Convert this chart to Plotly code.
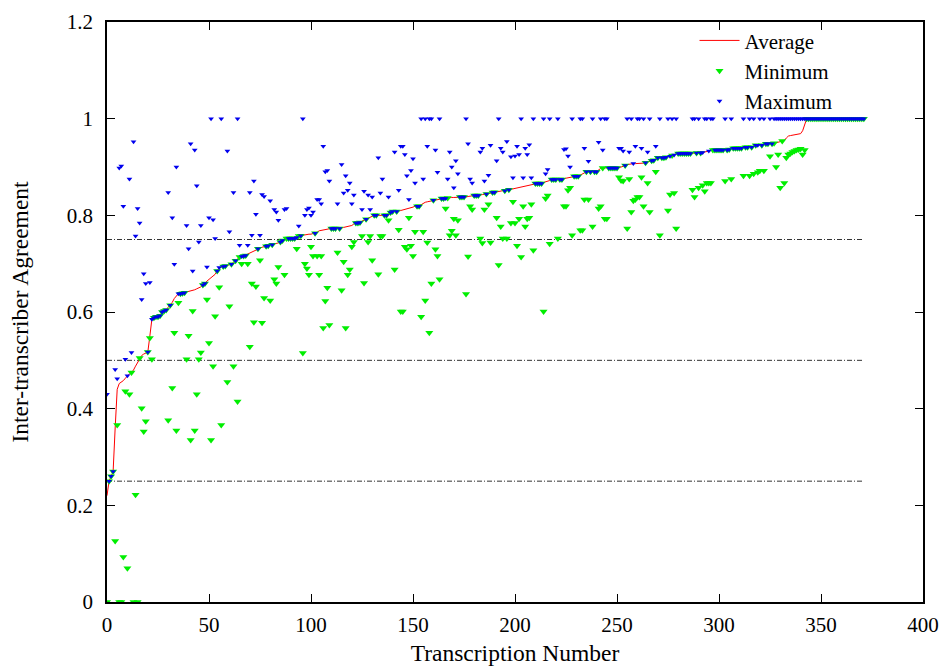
import plotly.graph_objects as go

# ---------------- data ----------------
avg = [
    0.22, 0.25, 0.26, 0.27, 0.36, 0.44, 0.452, 0.455, 0.458, 0.463,  # 0
    0.468, 0.472, 0.475, 0.48, 0.488, 0.495, 0.505, 0.51, 0.513, 0.515,  # 10
    0.517, 0.55, 0.585, 0.588, 0.59, 0.59, 0.592, 0.60, 0.602, 0.604,  # 20
    0.61, 0.614, 0.62, 0.628, 0.634, 0.638, 0.638, 0.639, 0.64, 0.642,  # 30
    0.643, 0.644, 0.645, 0.646, 0.648, 0.65, 0.652, 0.656, 0.659, 0.664,  # 40
    0.668, 0.671, 0.674, 0.678, 0.685, 0.692, 0.693, 0.694, 0.695, 0.696,  # 50
    0.698, 0.699, 0.703, 0.706, 0.71, 0.714, 0.715, 0.716, 0.717, 0.72,  # 60
    0.722, 0.724, 0.727, 0.729, 0.731, 0.733, 0.734, 0.735, 0.736, 0.737,  # 70
    0.738, 0.739, 0.741, 0.742, 0.743, 0.745, 0.748, 0.75, 0.752, 0.752,  # 80
    0.752, 0.752, 0.752, 0.754, 0.757, 0.758, 0.759, 0.759, 0.76, 0.761,  # 90
    0.761, 0.762, 0.763, 0.765, 0.768, 0.769, 0.77, 0.771, 0.772, 0.773,  # 100
    0.773, 0.773, 0.773, 0.773, 0.773, 0.774, 0.775, 0.776, 0.777, 0.777,  # 110
    0.779, 0.782, 0.784, 0.784, 0.785, 0.788, 0.79, 0.792, 0.794, 0.796,  # 120
    0.798, 0.8, 0.8, 0.8, 0.8, 0.8, 0.8, 0.8, 0.803, 0.806,  # 130
    0.808, 0.808, 0.808, 0.809, 0.81, 0.811, 0.812, 0.813, 0.814, 0.815,  # 140
    0.817, 0.819, 0.819, 0.819, 0.822, 0.825, 0.827, 0.828, 0.829, 0.83,  # 150
    0.831, 0.832, 0.833, 0.834, 0.835, 0.835, 0.835, 0.836, 0.837, 0.837,  # 160
    0.837, 0.837, 0.837, 0.838, 0.838, 0.838, 0.838, 0.839, 0.84, 0.841,  # 170
    0.841, 0.841, 0.841, 0.842, 0.843, 0.843, 0.844, 0.845, 0.846, 0.847,  # 180
    0.848, 0.849, 0.85, 0.85, 0.851, 0.851, 0.852, 0.853, 0.854, 0.855,  # 190
    0.856, 0.857, 0.858, 0.859, 0.86, 0.861, 0.862, 0.863, 0.864, 0.865,  # 200
    0.866, 0.866, 0.866, 0.866, 0.868, 0.869, 0.871, 0.872, 0.874, 0.874,  # 210
    0.874, 0.874, 0.874, 0.874, 0.876, 0.877, 0.878, 0.879, 0.88, 0.881,  # 220
    0.881, 0.881, 0.883, 0.885, 0.888, 0.89, 0.89, 0.89, 0.89, 0.89,  # 230
    0.89, 0.894, 0.897, 0.898, 0.898, 0.898, 0.898, 0.898, 0.898, 0.898,  # 240
    0.898, 0.899, 0.9, 0.901, 0.903, 0.905, 0.906, 0.907, 0.907, 0.907,  # 250
    0.907, 0.907, 0.907, 0.908, 0.909, 0.91, 0.912, 0.913, 0.914, 0.917,  # 260
    0.919, 0.919, 0.919, 0.919, 0.92, 0.921, 0.922, 0.924, 0.925, 0.927,  # 270
    0.928, 0.928, 0.928, 0.928, 0.928, 0.928, 0.928, 0.928, 0.929, 0.929,  # 280
    0.929, 0.929, 0.93, 0.931, 0.932, 0.933, 0.935, 0.935, 0.935, 0.935,  # 290
    0.935, 0.935, 0.935, 0.935, 0.935, 0.936, 0.937, 0.939, 0.939, 0.939,  # 300
    0.939, 0.939, 0.94, 0.941, 0.941, 0.941, 0.941, 0.943, 0.945, 0.945,  # 310
    0.945, 0.945, 0.946, 0.948, 0.948, 0.948, 0.948, 0.949, 0.95, 0.951,  # 320
    0.952, 0.954, 0.955, 0.96, 0.964, 0.965, 0.966, 0.966, 0.967, 0.968,  # 330
    0.969, 0.975, 0.99, 1, 1, 1, 1, 1, 1, 1,  # 340
    1, 1, 1, 1, 1, 1, 1, 1, 1, 1,  # 350
    1, 1, 1, 1, 1, 1, 1, 1, 1, 1,  # 360
    1, 1,  # 370
]

minimum = [
    0, 0.25, 0.26, 0.27, 0.126, 0.366, 0, 0, 0.093, 0.436,  # 0
    0.07, 0.43, 0.475, 0, 0.222, 0, 0.505, 0.401, 0.353, 0.374,  # 10
    0.517, 0.546, 0.502, 0.588, 0.59, 0.59, 0.592, 0.60, 0.602, 0.604,  # 20
    0.376, 0.614, 0.443, 0.557, 0.355, 0.619, 0.638, 0.639, 0.64, 0.502,  # 30
    0.551, 0.335, 0.602, 0.355, 0.43, 0.502, 0.516, 0.656, 0.659, 0.626,  # 40
    0.536, 0.335, 0.488, 0.591, 0.685, 0.651, 0.366, 0.694, 0.695, 0.455,  # 50
    0.612, 0.699, 0.488, 0.706, 0.415, 0.714, 0.70, 0.716, 0.717, 0.70,  # 60
    0.528, 0.659, 0.579, 0.653, 0.731, 0.707, 0.578, 0.629, 0.736, 0.737,  # 70
    0.624, 0.739, 0.668, 0.659, 0.693, 0.745, 0.748, 0.677, 0.752, 0.752,  # 80
    0.752, 0.752, 0.752, 0.731, 0.757, 0.758, 0.515, 0.70, 0.69, 0.677,  # 90
    0.735, 0.716, 0.763, 0.716, 0.677, 0.716, 0.567, 0.623, 0.65, 0.573,  # 100
    0.773, 0.773, 0.773, 0.723, 0.773, 0.645, 0.704, 0.567, 0.677, 0.688,  # 110
    0.735, 0.745, 0.784, 0.784, 0.785, 0.757, 0.66, 0.792, 0.745, 0.757,  # 120
    0.707, 0.80, 0.80, 0.678, 0.757, 0.757, 0.80, 0.80, 0.79, 0.806,  # 130
    0.808, 0.688, 0.808, 0.77, 0.601, 0.601, 0.735, 0.73, 0.795, 0.737,  # 140
    0.716, 0.766, 0.819, 0.819, 0.59, 0.766, 0.624, 0.744, 0.557, 0.659,  # 150
    0.831, 0.73, 0.716, 0.668, 0.835, 0.835, 0.814, 0.836, 0.759, 0.768,  # 160
    0.793, 0.759, 0.79, 0.838, 0.838, 0.838, 0.637, 0.715, 0.819, 0.812,  # 170
    0.841, 0.841, 0.841, 0.752, 0.743, 0.812, 0.844, 0.823, 0.744, 0.847,  # 180
    0.848, 0.795, 0.697, 0.777, 0.752, 0.851, 0.752, 0.853, 0.784, 0.828,  # 190
    0.784, 0.737, 0.793, 0.714, 0.819, 0.777, 0.793, 0.795, 0.823, 0.728,  # 200
    0.866, 0.866, 0.866, 0.866, 0.601, 0.835, 0.841, 0.741, 0.874, 0.874,  # 210
    0.874, 0.752, 0.874, 0.874, 0.819, 0.819, 0.852, 0.857, 0.759, 0.881,  # 220
    0.881, 0.881, 0.769, 0.769, 0.833, 0.89, 0.833, 0.89, 0.777, 0.89,  # 230
    0.89, 0.814, 0.819, 0.898, 0.793, 0.793, 0.898, 0.898, 0.898, 0.898,  # 240
    0.898, 0.879, 0.872, 0.871, 0.903, 0.773, 0.875, 0.807, 0.83, 0.833,  # 250
    0.838, 0.838, 0.879, 0.819, 0.909, 0.867, 0.807, 0.913, 0.914, 0.89,  # 260
    0.919, 0.759, 0.919, 0.919, 0.92, 0.81, 0.843, 0.924, 0.846, 0.773,  # 270
    0.928, 0.928, 0.928, 0.928, 0.928, 0.928, 0.928, 0.853, 0.838, 0.929,  # 280
    0.857, 0.929, 0.862, 0.85, 0.867, 0.867, 0.867, 0.935, 0.935, 0.935,  # 290
    0.935, 0.935, 0.935, 0.871, 0.935, 0.936, 0.875, 0.939, 0.939, 0.939,  # 300
    0.939, 0.939, 0.882, 0.941, 0.941, 0.882, 0.941, 0.886, 0.945, 0.889,  # 310
    0.892, 0.945, 0.892, 0.948, 0.948, 0.922, 0.948, 0.949, 0.90, 0.926,  # 320
    0.857, 0.954, 0.867, 0.919, 0.926, 0.928, 0.931, 0.933, 0.935, 0.936,  # 330
    0.938, 0.926, 0.935, 1, 1, 1, 1, 1, 1, 1,  # 340
    1, 1, 1, 1, 1, 1, 1, 1, 1, 1,  # 350
    1, 1, 1, 1, 1, 1, 1, 1, 1, 1,  # 360
    1, 1,  # 370
]

maximum = [
    0.43, 0.25, 0.26, 0.27, 0.481, 0.462, 0.898, 0.902, 0.819, 0.502,  # 0
    0.468, 0.875, 0.516, 0.952, 0.757, 0.814, 0.784, 0.626, 0.679, 0.659,  # 10
    0.517, 0.661, 0.585, 0.588, 0.59, 0.59, 0.592, 0.60, 0.602, 0.604,  # 20
    0.847, 0.614, 0.795, 0.699, 0.90, 0.638, 0.638, 0.639, 0.64, 0.779,  # 30
    0.731, 0.948, 0.685, 0.935, 0.861, 0.745, 0.779, 0.656, 0.659, 0.693,  # 40
    0.795, 1, 0.791, 0.752, 0.685, 0.692, 1, 0.694, 0.695, 0.933,  # 50
    0.766, 0.699, 0.847, 0.706, 1, 0.738, 0.715, 0.716, 0.717, 0.738,  # 60
    0.847, 0.759, 0.871, 0.802, 0.731, 0.759, 0.843, 0.839, 0.736, 0.737,  # 70
    0.83, 0.739, 0.812, 0.807, 0.79, 0.745, 0.748, 0.812, 0.814, 0.752,  # 80
    0.752, 0.752, 0.752, 0.754, 0.778, 0.758, 1, 0.80, 0.812, 0.815,  # 90
    0.80, 0.807, 0.763, 0.833, 0.833, 0.824, 0.943, 0.89, 0.893, 0.871,  # 100
    0.773, 0.773, 0.773, 0.824, 0.773, 0.905, 0.846, 0.882, 0.852, 0.867,  # 110
    0.824, 0.842, 0.784, 0.784, 0.785, 0.812, 0.85, 0.792, 0.842, 0.812,  # 120
    0.838, 0.80, 0.80, 0.919, 0.846, 0.875, 0.80, 0.80, 0.838, 0.806,  # 130
    0.808, 0.931, 0.808, 0.852, 0.943, 0.943, 0.926, 0.882, 0.833, 0.893,  # 140
    0.917, 0.867, 0.819, 0.819, 1, 0.875, 1, 0.943, 1, 1,  # 150
    0.831, 0.935, 0.889, 1, 0.835, 0.835, 0.835, 0.875, 0.931, 0.90,  # 160
    0.857, 0.913, 0.886, 0.838, 0.838, 0.838, 1, 0.948, 0.875, 0.867,  # 170
    0.841, 0.841, 0.841, 0.931, 0.939, 0.871, 0.844, 0.883, 0.945, 0.847,  # 180
    0.848, 0.913, 1, 0.939, 0.931, 0.851, 0.953, 0.853, 0.921, 0.878,  # 190
    0.923, 0.943, 0.926, 1, 0.878, 0.939, 0.926, 0.946, 0.878, 1,  # 200
    0.866, 0.866, 0.866, 0.866, 1, 0.886, 0.895, 1, 0.874, 0.874,  # 210
    0.874, 1, 0.874, 0.874, 0.936, 0.938, 0.923, 0.90, 1, 0.881,  # 220
    0.881, 0.881, 1, 1, 0.939, 0.89, 0.912, 0.89, 1, 0.89,  # 230
    0.89, 0.951, 1, 0.935, 1, 1, 0.898, 0.898, 0.898, 0.898,  # 240
    0.898, 0.939, 0.939, 0.933, 0.903, 1, 0.931, 1, 0.907, 0.943,  # 250
    1, 1, 0.939, 1, 0.909, 0.931, 1, 0.913, 0.914, 0.943,  # 260
    0.919, 1, 0.919, 0.919, 0.92, 1, 0.922, 1, 0.925, 1,  # 270
    0.928, 0.928, 0.928, 0.928, 0.928, 0.928, 0.928, 1, 1, 0.929,  # 280
    1, 0.929, 0.93, 1, 1, 0.933, 1, 1, 0.935, 0.935,  # 290
    0.935, 0.935, 0.935, 1, 0.935, 0.936, 1, 0.939, 0.939, 0.939,  # 300
    0.939, 0.939, 1, 0.941, 0.941, 1, 0.941, 1, 0.945, 0.945,  # 310
    1, 0.945, 1, 0.948, 0.948, 1, 0.948, 1, 1, 1,  # 320
    1, 1, 1, 1, 1, 1, 1, 1, 1, 1,  # 330
    1, 1, 1, 1, 1, 1, 1, 1, 1, 1,  # 340
    1, 1, 1, 1, 1, 1, 1, 1, 1, 1,  # 350
    1, 1, 1, 1, 1, 1, 1, 1, 1, 1,  # 360
    1, 1,  # 370
]

transcription = list(range(len(avg)))          # transcription numbers 0..371
thresholds = [0.25, 0.5, 0.75]                  # dash-dot reference levels
x_ticks = [0, 50, 100, 150, 200, 250, 300, 350, 400]
y_ticks = [0, 0.2, 0.4, 0.6, 0.8, 1, 1.2]

assert len(avg) == len(minimum) == len(maximum) == 372

# ---------------- figure ----------------
SERIF = "Liberation Serif, Times New Roman, serif"
fig = go.Figure()

for level in thresholds:
    fig.add_trace(go.Scatter(
        x=[transcription[0], transcription[-1]], y=[level, level],
        mode="lines", showlegend=False, hoverinfo="skip",
        line=dict(color="#333333", width=1, dash="5px,2px,1px,2px"),
    ))

fig.add_trace(go.Scatter(
    x=transcription, y=avg, mode="lines", name="Average",
    line=dict(color="#ff0000", width=1),
))
fig.add_trace(go.Scatter(
    x=transcription, y=minimum, mode="markers", name="Minimum",
    marker=dict(symbol="triangle-down", size=7, color="#00ee00",
                line=dict(width=0)),
))
fig.add_trace(go.Scatter(
    x=transcription, y=maximum, mode="markers", name="Maximum",
    marker=dict(symbol="triangle-down", size=5, color="#0000ee",
                line=dict(width=0)),
))

axis_common = dict(
    showline=True, linecolor="black", linewidth=1.5, mirror="ticks",
    ticks="inside", ticklen=8, tickwidth=1, tickcolor="black",
    showgrid=False, zeroline=False, automargin=False,
    tickfont=dict(family=SERIF, size=21, color="black"),
)

fig.update_layout(
    width=943, height=666,
    margin=dict(l=107, r=20, t=22, b=64),
    paper_bgcolor="white", plot_bgcolor="white",
    font=dict(family=SERIF, color="black"),
    xaxis=dict(range=[0, 400], tickvals=x_ticks, ticklabelstandoff=3,
               title=dict(text="Transcription Number",
                          font=dict(family=SERIF, size=23.5), standoff=11),
               **axis_common),
    yaxis=dict(range=[0, 1.2], tickvals=y_ticks, ticklabelstandoff=8,
               title=dict(text="Inter-transcriber Agreement",
                          font=dict(family=SERIF, size=23.5), standoff=32),
               **axis_common),
    legend=dict(x=0.72, y=1.003, xanchor="left", yanchor="top",
                bgcolor="rgba(0,0,0,0)", borderwidth=0,
                font=dict(family=SERIF, size=21), tracegroupgap=0,
                itemwidth=40),
    showlegend=True,
)

fig.write_html(
    "out.html",
    config={"displayModeBar": False},
    post_script="document.body.style.margin='0px';"
                "document.body.style.overflow='hidden';",
)
